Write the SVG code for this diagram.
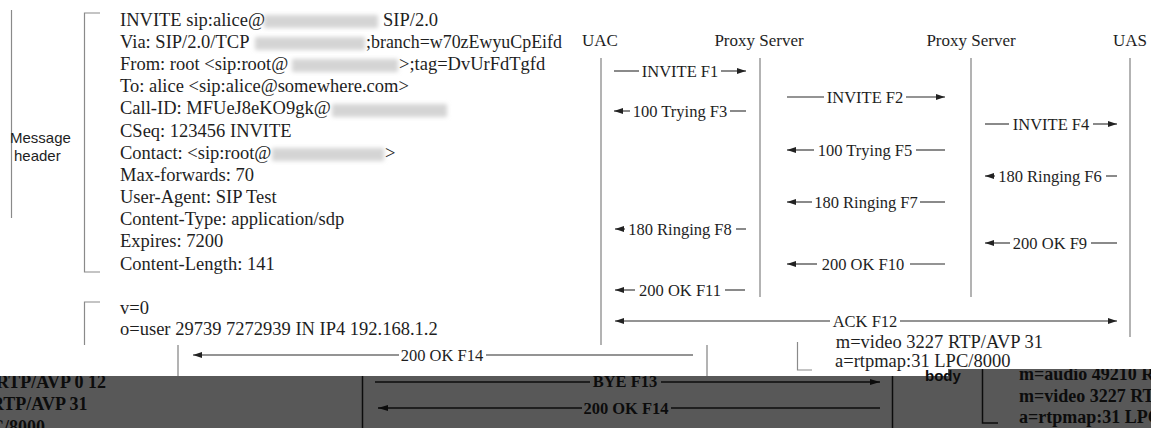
<svg xmlns="http://www.w3.org/2000/svg" width="1151" height="428" viewBox="0 0 1151 428">
<style>
.hd{font-family:"Liberation Serif","Times New Roman",serif;font-size:18.5px;fill:#1e1e1e}
.lb{font-family:"Liberation Serif","Times New Roman",serif;font-size:16.5px;fill:#1e1e1e}
.pt{font-family:"Liberation Serif","Times New Roman",serif;font-size:17px;fill:#1e1e1e;text-anchor:middle}
.sa{font-family:"Liberation Sans",Arial,sans-serif;font-size:15px;fill:#1e1e1e}
.bd{font-family:"Liberation Serif","Times New Roman",serif;font-size:18px;font-weight:bold;fill:#0c0c0c}
.bl{font-family:"Liberation Serif","Times New Roman",serif;font-size:16.5px;font-weight:bold;fill:#0c0c0c;text-anchor:middle}
.ll{font-family:"Liberation Serif","Times New Roman",serif;font-size:16.5px;fill:#1e1e1e;text-anchor:middle}
.br{stroke:#8a8a8a;stroke-width:1.2;fill:none}
.life{stroke:#8a8a8a;stroke-width:1.3}
.msg{stroke:#2a2a2a;stroke-width:1.1;fill:none}
.bmsg{stroke:#0c0c0c;stroke-width:1.5;fill:none}
.blur{fill:#d4d4d4;filter:url(#bf)}
</style>
<defs>
<filter id="bf" x="-20%" y="-60%" width="140%" height="220%"><feGaussianBlur stdDeviation="2.2"/></filter>
<marker id="ah" markerWidth="9" markerHeight="6" refX="9" refY="3" orient="auto" markerUnits="userSpaceOnUse"><path d="M0,0 L9,3 L0,6 z" fill="#222"/></marker>
<marker id="bh" markerWidth="10" markerHeight="6" refX="10" refY="3" orient="auto" markerUnits="userSpaceOnUse"><path d="M0,0 L10,3 L0,6 z" fill="#0c0c0c"/></marker>
<clipPath id="bandclip"><polygon points="0,376 948,376 948,369 1151,369 1151,428 0,428"/></clipPath>
<clipPath id="bodyclip"><rect x="900" y="369" width="80" height="30"/></clipPath>
</defs>
<rect width="1151" height="428" fill="#ffffff"/>

<g id="message-header-label">
<line class="br" x1="11.5" y1="10" x2="11.5" y2="218"/>
<text class="sa" x="10" y="143">Message</text>
<text class="sa" x="14" y="161">header</text>
</g>

<g id="message-header">
<path class="br" d="M100,13 H84.5 V272 H100"/>
<rect class="blur" x="264" y="15" width="114" height="13"/>
<rect class="blur" x="255" y="37" width="110" height="13"/>
<rect class="blur" x="292" y="59" width="106" height="13"/>
<rect class="blur" x="332" y="104" width="115" height="13"/>
<rect class="blur" x="272" y="148" width="112" height="13"/>
<text class="hd" x="120" y="26">INVITE sip:alice@</text>
<text class="hd" x="383" y="26">SIP/2.0</text>
<text class="hd" x="120" y="48">Via: SIP/2.0/TCP</text>
<text class="hd" x="366" y="48" textLength="196" lengthAdjust="spacingAndGlyphs">;branch=w70zEwyuCpEifd</text>
<text class="hd" x="120" y="70">From: root &lt;sip:root@</text>
<text class="hd" x="399" y="70">&gt;;tag=DvUrFdTgfd</text>
<text class="hd" x="120" y="92">To: alice &lt;sip:alice@somewhere.com&gt;</text>
<text class="hd" x="120" y="114">Call-ID: MFUeJ8eKO9gk@</text>
<text class="hd" x="120" y="137">CSeq: 123456 INVITE</text>
<text class="hd" x="120" y="159">Contact: &lt;sip:root@</text>
<text class="hd" x="385" y="159">&gt;</text>
<text class="hd" x="120" y="181">Max-forwards: 70</text>
<text class="hd" x="120" y="203">User-Agent: SIP Test</text>
<text class="hd" x="120" y="225">Content-Type: application/sdp</text>
<text class="hd" x="120" y="247">Expires: 7200</text>
<text class="hd" x="120" y="270">Content-Length: 141</text>
</g>

<g id="message-body">
<path class="br" d="M100,302 H84.5 V345"/>
<text class="hd" x="120" y="314">v=0</text>
<text class="hd" x="120" y="335">o=user 29739 7272939 IN IP4 192.168.1.2</text>
</g>

<g id="uac">
<text class="pt" x="600" y="46">UAC</text>
<line class="life" x1="601" y1="58" x2="601" y2="345"/>
</g>
<g id="proxy-server-1">
<text class="pt" x="759" y="46">Proxy Server</text>
<line class="life" x1="760" y1="58" x2="760" y2="297"/>
</g>
<g id="proxy-server-2">
<text class="pt" x="971" y="46">Proxy Server</text>
<line class="life" x1="971" y1="58" x2="971" y2="297"/>
</g>
<g id="uas">
<text class="pt" x="1130" y="46">UAS</text>
<line class="life" x1="1130" y1="58" x2="1130" y2="337"/>
</g>

<g id="connectors">
<line class="msg" x1="614" y1="71" x2="639" y2="71"/><line class="msg" x1="721" y1="71" x2="746" y2="71" marker-end="url(#ah)"/>
<text class="ll" x="680" y="76.5">INVITE F1</text>
<line class="msg" x1="787" y1="97" x2="824" y2="97"/><line class="msg" x1="906" y1="97" x2="945" y2="97" marker-end="url(#ah)"/>
<text class="ll" x="865" y="102.5">INVITE F2</text>
<line class="msg" x1="630" y1="111" x2="614" y2="111" marker-end="url(#ah)"/><line class="msg" x1="730" y1="111" x2="746" y2="111"/>
<text class="ll" x="680" y="116.5">100 Trying F3</text>
<line class="msg" x1="985" y1="124" x2="1009" y2="124"/><line class="msg" x1="1093" y1="124" x2="1117" y2="124" marker-end="url(#ah)"/>
<text class="ll" x="1051" y="129.5">INVITE F4</text>
<line class="msg" x1="814" y1="150" x2="787" y2="150" marker-end="url(#ah)"/><line class="msg" x1="916" y1="150" x2="945" y2="150"/>
<text class="ll" x="865" y="155.5">100 Trying F5</text>
<line class="msg" x1="995" y1="176" x2="985" y2="176" marker-end="url(#ah)"/><line class="msg" x1="1106" y1="176" x2="1117" y2="176"/>
<text class="ll" x="1050" y="181.5">180 Ringing F6</text>
<line class="msg" x1="812" y1="202" x2="787" y2="202" marker-end="url(#ah)"/><line class="msg" x1="920" y1="202" x2="945" y2="202"/>
<text class="ll" x="866" y="207.5">180 Ringing F7</text>
<line class="msg" x1="625" y1="229" x2="615" y2="229" marker-end="url(#ah)"/><line class="msg" x1="736" y1="229" x2="746" y2="229"/>
<text class="ll" x="680" y="234.5">180 Ringing F8</text>
<line class="msg" x1="1010" y1="243" x2="985" y2="243" marker-end="url(#ah)"/><line class="msg" x1="1091" y1="243" x2="1117" y2="243"/>
<text class="ll" x="1050" y="248.5">200 OK F9</text>
<line class="msg" x1="817" y1="264" x2="787" y2="264" marker-end="url(#ah)"/><line class="msg" x1="910" y1="264" x2="945" y2="264"/>
<text class="ll" x="863" y="269.5">200 OK F10</text>
<line class="msg" x1="635" y1="290" x2="615" y2="290" marker-end="url(#ah)"/><line class="msg" x1="725" y1="290" x2="745" y2="290"/>
<text class="ll" x="680" y="295.5">200 OK F11</text>
<line class="msg" x1="830" y1="321" x2="615" y2="321" marker-end="url(#ah)"/><line class="msg" x1="900" y1="321" x2="1117" y2="321" marker-end="url(#ah)"/>
<text class="ll" x="865" y="326.5">ACK F12</text>
<line class="msg" x1="399" y1="355" x2="193" y2="355" marker-end="url(#ah)"/><line class="msg" x1="486" y1="355" x2="693" y2="355"/>
<text class="ll" x="442" y="360.5">200 OK F14</text>
<line class="life" x1="178" y1="345" x2="178" y2="376"/>
<line class="life" x1="707" y1="345" x2="707" y2="376"/>
</g>

<g id="strip-body">
<text class="hd" x="1043" y="348" text-anchor="end">m=video 3227 RTP/AVP 31</text>
<path class="br" d="M797.5,342 V370 H812"/>
<text class="hd" x="835" y="367">a=rtpmap:31 LPC/8000</text>
</g>

<g id="band">
<polygon points="0,376 948,376 948,369 1151,369 1151,428 0,428" fill="#585858"/>
<g clip-path="url(#bandclip)">
<text class="bd" x="-4" y="388">RTP/AVP 0 12</text>
<text class="bd" x="-9" y="410">RTP/AVP 31</text>
<text class="bd" x="-9" y="433">C/8000</text>
<line x1="362.5" y1="369" x2="362.5" y2="428" stroke="#0c0c0c" stroke-width="1.5"/>
<line x1="892.5" y1="369" x2="892.5" y2="428" stroke="#0c0c0c" stroke-width="1.5"/>
<line class="bmsg" x1="375" y1="382" x2="590" y2="382"/><line class="bmsg" x1="661" y1="382" x2="880" y2="382" marker-end="url(#bh)"/>
<text class="bl" x="625" y="387">BYE F13</text>
<line class="bmsg" x1="582" y1="408" x2="378" y2="408" marker-end="url(#bh)"/><line class="bmsg" x1="671" y1="408" x2="880" y2="408"/>
<text class="bl" x="626" y="413.5">200 OK F14</text>
<path d="M982.5,369 V423 H998" stroke="#0c0c0c" stroke-width="1.5" fill="none"/>
<text class="bd" x="1019" y="380">m=audio 49210 RTP/AVP 0 12</text>
<text class="bd" x="1019" y="402">m=video 3227 RTP/AVP 31</text>
<text class="bd" x="1019" y="423">a=rtpmap:31 LPC/8000</text>
</g>
<g clip-path="url(#bodyclip)">
<text x="925" y="381" font-family="Liberation Sans, Arial, sans-serif" font-size="15" font-weight="bold" fill="#0c0c0c">body</text>
</g>
</g>
</svg>
